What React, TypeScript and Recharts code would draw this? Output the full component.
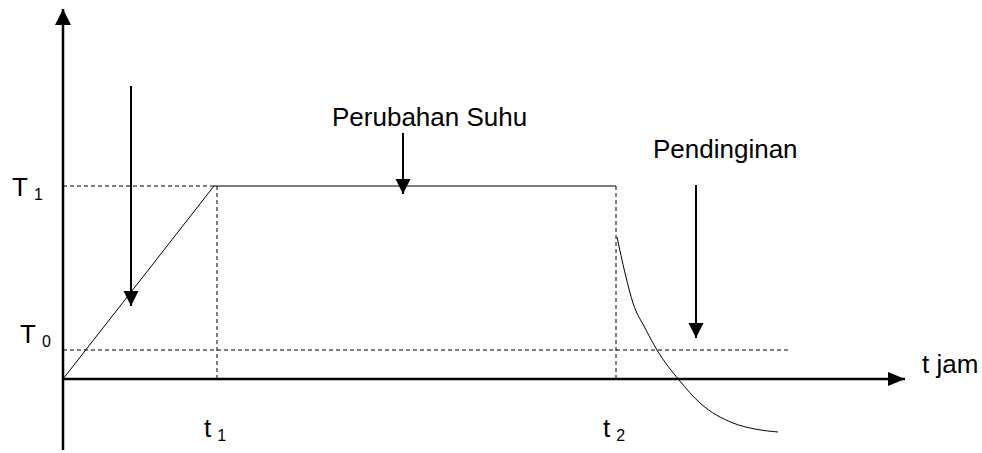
import React from 'react';
import { ComposedChart, Line, XAxis, YAxis, ReferenceDot } from 'recharts';

const FONT = '"Liberation Sans", Arial, Helvetica, sans-serif';

// tick sumbu
const tTicks = [15.4, 55.3];
const tTickSubs = ['1', '2'];
const suhuTicks = [19.3, 2.9];
const suhuTickSubs = ['1', '0'];

// kurva pemanasan + suhu tetap
const heatT = [0, 15.1, 55.3];
const heatSuhu = [0, 19.3, 19.3];

// kurva pendinginan
const coolT = [55.4, 56.2, 57.0, 58.2, 59.4, 61.6, 63.7, 67.0, 69.2, 71.5];
const coolSuhu = [14.2, 10.6, 7.6, 5.1, 2.9, -0.1, -2.4, -4.4, -5.0, -5.3];

// garis bantu putus-putus [t1, T1, t2, T2]
const guides = [
  [0, 19.3, 15.4, 19.3],
  [0, 2.9, 72.5, 2.9],
  [15.4, 0, 15.4, 19.3],
  [55.3, 0, 55.3, 19.3],
];

// panah [t1, T1, t2, T2, arah]
const arrows: [number, number, number, number, string][] = [
  [0, -7.1, 0, 37.0, 'up'],
  [0, 0, 84.2, 0, 'right'],
  [6.8, 29.3, 6.8, 7.3, 'down'],
  [34.0, 24.6, 34.0, 18.5, 'down'],
  [63.3, 19.4, 63.3, 4.1, 'down'],
];

// teks keterangan [t, T, isi]
const notes: [number, number, string][] = [
  [26.9, 25.3, 'Perubahan Suhu'],
  [59.0, 22.1, 'Pendinginan'],
  [85.9, 0.6, 't jam'],
];

const toPoints = (xs: number[], ys: number[]) => xs.map((x, i) => ({ x, y: ys[i] }));
const seg = (s: number[]) => [{ x: s[0], y: s[1] }, { x: s[2], y: s[3] }];

function ArrowHead({ cx, cy, dir }: { cx: number; cy: number; dir: string }) {
  let pts = '';
  if (dir === 'down') pts = `${cx},${cy} ${cx - 7.5},${cy - 15} ${cx + 7.5},${cy - 15}`;
  if (dir === 'up') pts = `${cx},${cy} ${cx - 8},${cy + 16} ${cx + 8},${cy + 16}`;
  if (dir === 'right') pts = `${cx},${cy} ${cx - 17},${cy - 7} ${cx - 17},${cy + 7}`;
  return <polygon points={pts} fill="#000" />;
}

const XTick = (props: any) => {
  const { x, y, payload } = props;
  const i = tTicks.indexOf(payload.value);
  return (
    <text x={x - 2} y={y - 13} textAnchor="middle" fontFamily={FONT} fontSize={26} fill="#000">
      <tspan>t</tspan>
      <tspan dx={6} dy={4} fontSize={16}>{tTickSubs[i]}</tspan>
    </text>
  );
};

const YTick = (props: any) => {
  const { x, y, payload } = props;
  const i = suhuTicks.indexOf(payload.value);
  const dx = i === 0 ? -51 : -43;
  const dy = i === 0 ? 10 : -7;
  return (
    <text x={x + dx} y={y + dy} textAnchor="start" fontFamily={FONT} fontSize={26} fill="#000">
      <tspan>T</tspan>
      <tspan dx={6} dy={4} fontSize={16}>{suhuTickSubs[i]}</tspan>
    </text>
  );
};

export default function App() {
  return (
    <div style={{ position: 'absolute', left: 0, top: 0, background: '#fff' }}>
      <ComposedChart width={982} height={453} margin={{ top: 9, right: 77, bottom: -17, left: 0 }}>
        <XAxis
          type="number"
          dataKey="x"
          domain={[0, 84.2]}
          ticks={tTicks}
          tick={<XTick />}
          axisLine={false}
          tickLine={false}
          tickSize={0}
          tickMargin={0}
          height={20}
          interval={0}
        />
        <YAxis
          type="number"
          dataKey="y"
          domain={[-7.1, 37]}
          ticks={suhuTicks}
          tick={<YTick />}
          axisLine={false}
          tickLine={false}
          tickSize={0}
          tickMargin={0}
          width={63}
          interval={0}
        />
        {guides.map((g, i) => (
          <Line
            key={`g${i}`}
            data={seg(g)}
            dataKey="y"
            type="linear"
            stroke="#000"
            strokeWidth={1}
            strokeDasharray="4 3"
            dot={false}
            isAnimationActive={false}
          />
        ))}
        <Line
          data={toPoints(heatT, heatSuhu)}
          dataKey="y"
          type="linear"
          stroke="#000"
          strokeWidth={1}
          dot={false}
          isAnimationActive={false}
        />
        <Line
          data={toPoints(coolT, coolSuhu)}
          dataKey="y"
          type="monotone"
          stroke="#000"
          strokeWidth={1}
          dot={false}
          isAnimationActive={false}
        />
        {arrows.map((a, i) => (
          <Line
            key={`a${i}`}
            data={seg(a as any)}
            dataKey="y"
            type="linear"
            stroke="#000"
            strokeWidth={i < 2 ? 2.5 : 2}
            isAnimationActive={false}
            dot={(p: any) =>
              p.index === 1 ? (
                <ArrowHead key={`h${i}`} cx={p.cx} cy={p.cy} dir={a[4]} />
              ) : (
                <g key={`n${i}-${p.index}`} />
              )
            }
          />
        ))}
        {notes.map((n, i) => (
          <ReferenceDot
            key={`t${i}`}
            x={n[0]}
            y={n[1]}
            r={0}
            ifOverflow="visible"
            shape={(p: any) => (
              <text x={p.cx} y={p.cy} fontFamily={FONT} fontSize={26} fill="#000">
                {n[2]}
              </text>
            )}
          />
        ))}
      </ComposedChart>
    </div>
  );
}
